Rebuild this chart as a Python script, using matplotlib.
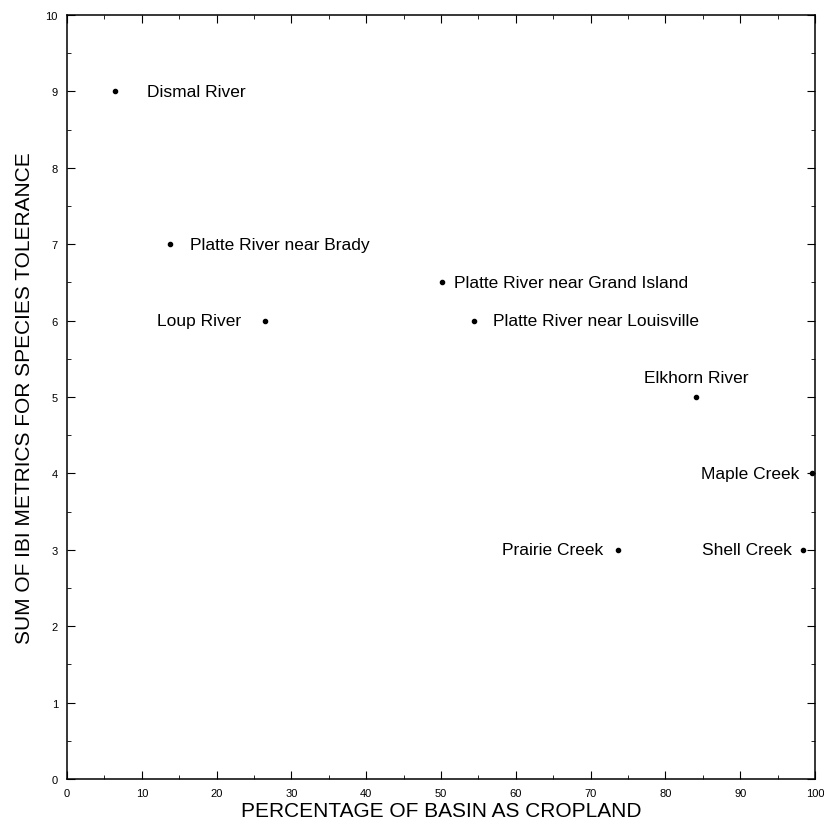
import matplotlib.pyplot as plt
from matplotlib.ticker import MultipleLocator

plt.rcParams['font.family'] = ['Liberation Sans', 'DejaVu Sans']

sites = ["Dismal River", "Platte River near Brady", "Loup River",
         "Platte River near Grand Island", "Platte River near Louisville",
         "Elkhorn River", "Maple Creek", "Prairie Creek", "Shell Creek"]
cropland = [6.4, 13.8, 26.5, 50.1, 54.4, 84.1, 99.6, 73.7, 98.4]
ibi_sum = [9, 7, 6, 6.5, 6, 5, 4, 3, 3]

# label offsets (points) and alignment per site
offsets = [(23, 0), (14, 0), (-17, 0), (9, 0), (14, 0), (0, 9), (-9, 0), (-11, 0), (-8, 0)]
aligns = ["left", "left", "right", "left", "left", "center", "right", "right", "right"]

fig = plt.figure(figsize=(8.24, 8.29), dpi=100)
ax = fig.add_axes([0.0813, 0.0591, 0.9077, 0.9216])

ax.scatter(cropland, ibi_sum, s=9, color="black", zorder=3, clip_on=False)
for name, xv, yv, off, ha in zip(sites, cropland, ibi_sum, offsets, aligns):
    ax.annotate(name, (xv, yv), xytext=off, textcoords="offset points",
                ha=ha, va="bottom" if off[1] > 0 else "center", fontsize=12.5)

ax.set_xlim(0, 100)
ax.set_ylim(0, 10)
ax.xaxis.set_major_locator(MultipleLocator(10))
ax.xaxis.set_minor_locator(MultipleLocator(5))
ax.yaxis.set_major_locator(MultipleLocator(1))
ax.yaxis.set_minor_locator(MultipleLocator(0.5))
ax.tick_params(which="both", direction="in", top=True, right=True, labelsize=8, pad=6.5)
ax.tick_params(which="major", length=6)
ax.tick_params(which="minor", length=3)
for sp in ax.spines.values():
    sp.set_linewidth(1.1)

ax.set_xlabel("PERCENTAGE OF BASIN AS CROPLAND", fontsize=15, labelpad=2)
ax.set_ylabel("SUM OF IBI METRICS FOR SPECIES TOLERANCE", fontsize=15, labelpad=8)

fig.savefig("out.png", dpi=100)
